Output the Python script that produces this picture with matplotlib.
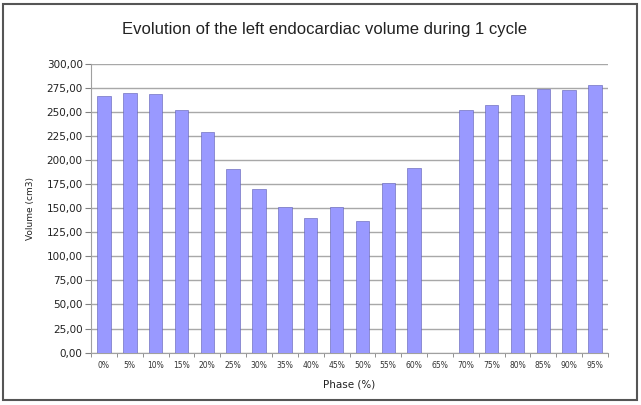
import numpy as np
import matplotlib.pyplot as plt
from matplotlib.patches import Rectangle
from matplotlib.ticker import FixedLocator, FuncFormatter

# dati
fasi = ['0%', '5%', '10%', '15%', '20%', '25%', '30%', '35%', '40%', '45%',
        '50%', '55%', '60%', '65%', '70%', '75%', '80%', '85%', '90%', '95%']
volumi = [267, 270, 269, 253, 230, 191, 170, 151, 140, 152,
          137, 176, 192, 0, 253, 258, 268, 274, 273, 279]
y_ticks = np.arange(0, 301, 25)

fig = plt.figure(figsize=(6.41, 4.05), dpi=100)
ax = fig.add_axes([0.142, 0.1296, 0.8065, 0.7114])

x = np.arange(len(fasi))
ax.bar(x, volumi, width=0.52, color='#9999ff', edgecolor='#5c5cb0', linewidth=0.4, zorder=3)

ax.set_xlim(-0.5, len(fasi) - 0.5)
ax.set_ylim(0, 300)
ax.set_yticks(y_ticks)
ax.yaxis.set_major_formatter(FuncFormatter(lambda v, p: f'{v:.2f}'.replace('.', ',')))
ax.grid(axis='y', color='#a8a8a8', linewidth=1, zorder=0)

ax.set_xticks(x)
ax.set_xticklabels(fasi, fontsize=5.5, color='#333333')
ax.xaxis.set_minor_locator(FixedLocator(np.arange(-0.5, len(fasi), 1)))
ax.tick_params(axis='x', which='major', length=0, pad=6)
ax.tick_params(axis='x', which='minor', length=3, color='#808080')
ax.tick_params(axis='y', length=4, color='#808080', labelsize=7.5, labelcolor='#222222', pad=2)

for s in ['top', 'right']:
    ax.spines[s].set_visible(False)
for s in ['left', 'bottom']:
    ax.spines[s].set_color('#a0a0a0')

ax.set_ylabel('Volume (cm3)', fontsize=6.5, color='#222222', labelpad=8)
ax.set_xlabel('Phase (%)', fontsize=7.5, color='#222222', labelpad=7)
fig.suptitle('Evolution of the left endocardiac volume during 1 cycle',
             fontsize=12, family='Liberation Sans', color='#222222',
             y=0.926, x=0.507, va='center')

# cornice esterna
fig.patches.append(Rectangle((0.005, 0.012), 0.989, 0.978, transform=fig.transFigure,
                             fill=False, edgecolor='#555555', linewidth=1.5))

fig.savefig('out.png', dpi=100)
